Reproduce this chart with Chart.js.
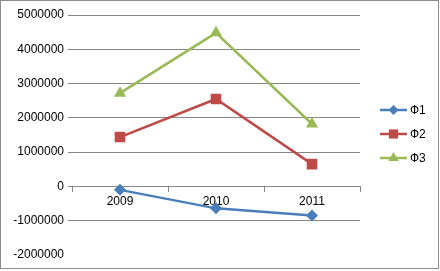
<!DOCTYPE html>
<html>
<head>
<meta charset="utf-8">
<script src="https://cdn.jsdelivr.net/npm/chart.js@4"></script>
<style>
  html, body { margin: 0; padding: 0; background: #fff; }
  #wrap { width: 440px; height: 271px; position: relative; }
</style>
</head>
<body>
<div id="wrap"><canvas id="lineChart" width="440" height="271"></canvas></div>
<script>
// data
const years = ["2009", "2010", "2011"];
const f1 = [-100000, -640000, -850000];
const f2 = [1440000, 2550000, 650000];
const f3 = [2720000, 4480000, 1820000];
const seriesNames = ["Ф1", "Ф2", "Ф3"];

const yMin = -2000000;
const yMax = 5000000;
const yStep = 1000000;

const font = { family: "'Liberation Sans', Arial, sans-serif", size: 12 };

// legend on the right: line + marker, like the spreadsheet one
const sideLegend = {
    id: "sideLegend",
    afterDraw(chart) {
        const c = chart.ctx;
        c.save();
        chart.data.datasets.forEach((ds, i) => {
            const y = 110 + i * 24;
            c.strokeStyle = ds.borderColor;
            c.lineWidth = 2.5;
            c.beginPath();
            c.moveTo(380, y);
            c.lineTo(407, y);
            c.stroke();
            c.fillStyle = ds.backgroundColor;
            Chart.helpers.drawPoint(c, {
                pointStyle: ds.pointStyle,
                radius: ds.pointRadius - 1,
                borderWidth: 0
            }, 393.5, y);
            c.fillStyle = "#000";
            c.font = "12px 'Liberation Sans', Arial, sans-serif";
            c.textBaseline = "middle";
            c.fillText(ds.label, 410, y + 1);
        });
        // outer frame
        c.strokeStyle = "#8c8c8c";
        c.lineWidth = 1;
        c.strokeRect(0.5, 0.5, 438, 268);
        c.restore();
    }
};

let ctx = document.getElementById("lineChart").getContext("2d");

let chart = new Chart(ctx, {
    type: "line",
    data: {
        labels: years,
        datasets: [{
            label: seriesNames[0],
            data: f1,
            borderColor: "#4a7ebb",
            backgroundColor: "#4a7ebb",
            pointStyle: "rectRot",
            pointRadius: 6
        }, {
            label: seriesNames[1],
            data: f2,
            borderColor: "#be4b48",
            backgroundColor: "#be4b48",
            pointStyle: "rect",
            pointRadius: 7.5
        }, {
            label: seriesNames[2],
            data: f3,
            borderColor: "#98b954",
            backgroundColor: "#98b954",
            pointStyle: "triangle",
            pointRadius: 7
        }]
    },
    options: {
        responsive: false,
        animation: false,
        layout: { padding: { left: 4, right: 80, top: 15, bottom: 16 } },
        elements: {
            line: { borderWidth: 2.5, tension: 0 },
            point: { borderWidth: 0 }
        },
        plugins: {
            legend: { display: false },
            tooltip: { enabled: false }
        },
        scales: {
            x: {
                position: { y: 0 },
                offset: true,
                border: { color: "#868686", width: 1 },
                grid: {
                    offset: true,
                    drawOnChartArea: false,
                    drawTicks: true,
                    tickLength: 5,
                    color: "#868686"
                },
                ticks: { color: "#000", font: font, padding: 3 }
            },
            y: {
                min: yMin,
                max: yMax,
                afterFit: s => { s.width = 68; },
                border: { display: false },
                grid: {
                    color: c => c.tick.value === yMin ? "rgba(0,0,0,0)" : "#868686",
                    drawTicks: true,
                    tickLength: 4
                },
                ticks: {
                    stepSize: yStep,
                    color: "#000",
                    font: font,
                    padding: 4,
                    callback: v => String(v)
                }
            }
        }
    },
    plugins: [sideLegend]
});
</script>
</body>
</html>
